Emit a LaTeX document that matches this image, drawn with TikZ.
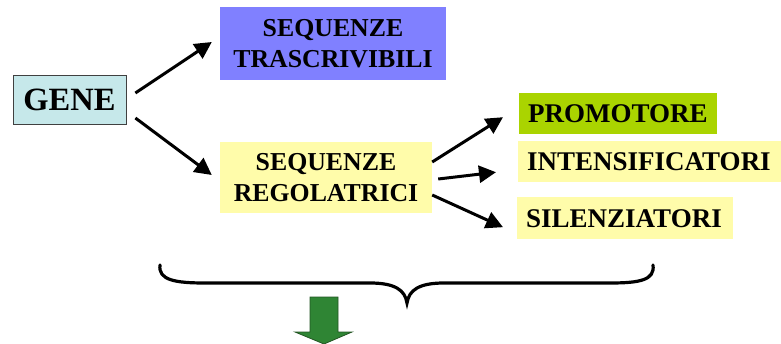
\documentclass[tikz,border=0pt]{standalone}
\usepackage{fontspec}
\setmainfont{Liberation Serif}
\usetikzlibrary{arrows.meta}
\definecolor{genefill}{RGB}{198,232,234}
\definecolor{trasfill}{RGB}{128,128,255}
\definecolor{regfill}{RGB}{255,252,170}
\definecolor{promfill}{RGB}{170,212,0}
\definecolor{greenarr}{RGB}{47,133,52}
\definecolor{greenborder}{RGB}{35,85,35}
\tikzset{
  lbl/.style={font=\fontsize{25.8}{31}\selectfont\bfseries, inner sep=0pt, align=center, text=black},
  side/.style={font=\fontsize{27}{28}\selectfont\bfseries, inner xsep=9pt, inner ysep=0pt, align=left, anchor=north west, text=black},
  arr/.style={line width=3pt, -{Triangle[length=17pt,width=17pt]}},
  brace/.style={line width=3.2pt, line cap=round},
}
\begin{document}
\begin{tikzpicture}[x=1pt,y=-1pt]
\useasboundingbox (0,0) rectangle (781,343);
\node[draw=black!75, line width=0.8pt, fill=genefill, minimum width=113pt, minimum height=49pt, inner sep=0pt,
  font=\fontsize{32.5}{34}\selectfont\bfseries] (gene) at (69.5,99.5) {GENE};
\node[lbl, fill=trasfill, minimum width=226pt, minimum height=73pt] (tras) at (333,43.5) {SEQUENZE\\TRASCRIVIBILI};
\node[lbl, fill=regfill, minimum width=212pt, minimum height=71pt] (reg) at (326,177.5) {SEQUENZE\\REGOLATRICI};
\node[side, fill=promfill, text width=180pt, minimum height=41pt] (prom) at (519,93) {PROMOTORE};
\node[side, fill=regfill, text width=245pt, minimum height=41pt] (int) at (518,141) {INTENSIFICATORI};
\node[side, fill=regfill, text width=198pt, minimum height=42pt] (sil) at (517,197) {SILENZIATORI};
\draw[arr] ([shift={(9,-6.5)}]gene.east) -- ([shift={(-8,-1.5)}]tras.west);
\draw[arr] ([shift={(9,18.5)}]gene.east) -- ([shift={(-8,-2.5)}]reg.west);
\draw[arr] ([shift={(0,-15.5)}]reg.east) -- ([shift={(-16,3.5)}]prom.west);
\draw[arr] ([shift={(6,1.5)}]reg.east) -- ([shift={(-22,10.5)}]int.west);
\draw[arr] ([shift={(0,17.5)}]reg.east) -- ([shift={(-14,9)}]sil.west);
\draw[brace] (160,265) .. controls (158,280) and (175,283) .. (205,283) -- (370,283)
  .. controls (395,283) and (405,290) .. (407,303)
  .. controls (409,290) and (419,283) .. (444,283) -- (610,283)
  .. controls (640,283) and (655,280) .. (653,265);
\fill[greenarr, draw=greenborder, line width=0.8pt] (310,297) -- (338,297) -- (338,332) -- (352,332) -- (324,344) -- (295,332) -- (310,332) -- cycle;
\end{tikzpicture}
\end{document}
